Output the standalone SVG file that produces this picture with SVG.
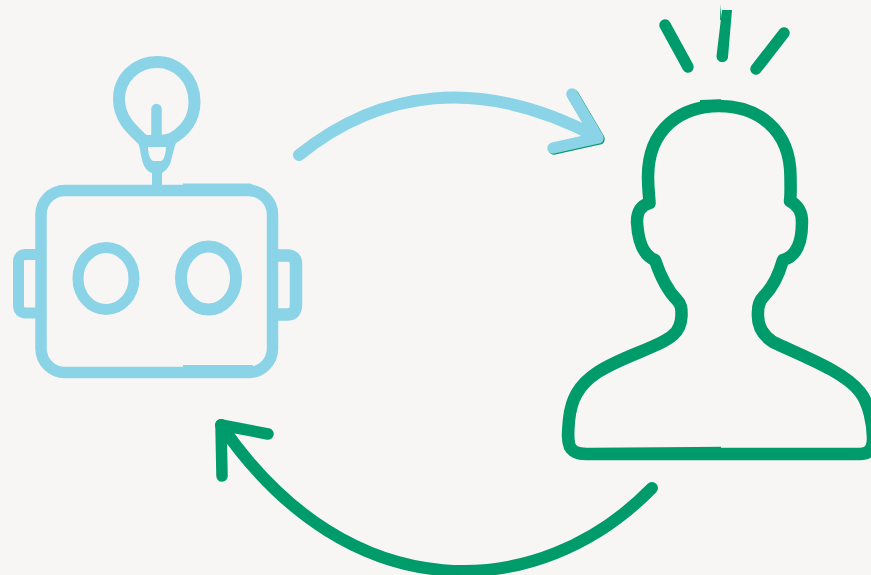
<svg xmlns="http://www.w3.org/2000/svg" width="871" height="575" viewBox="0 0 871 575">
<style>
.l{fill:none;stroke-linecap:round;stroke-linejoin:round}
.b{stroke:#8bd3e6}
.g{stroke:#009b6a}
.fb{fill:#8bd3e6}
.fg{fill:#009b6a}
</style>
<rect width="871" height="575" fill="#f8f6f4"/>
<g id="robot">
<rect class="l b" x="41" y="190.500" width="231.500" height="182" rx="24" stroke-width="11.500"/>
<path class="fb" d="M183 183.500H250L263 189L258 192H183Z"/>
<path class="fb" d="M183 365H252L262 372L252 374H183Z"/>
<path class="l b" stroke-width="11" d="M40 254.500H26Q18.500 254.500 18.500 262V305Q18.500 313 26 313H40"/>
<path class="l b" stroke-width="12.500" d="M274 255.500H287Q296 255.500 296 264V305Q296 314.500 287 314.500H274"/>
<ellipse class="l b" cx="106" cy="278.500" rx="28" ry="31" stroke-width="11"/>
<ellipse class="l b" cx="208.500" cy="278" rx="27.500" ry="31.500" stroke-width="12"/>
<path class="l b" stroke-width="12" d="M143 140C134 131 119 120 119 99C119 78 136 62 157 62C178 62 194.500 79 194.500 102C194.500 120 184 132 171 139C164 141 150 142 143 140Z"/>
<path class="fb" fill-rule="evenodd" d="M136 138L178 138C175 144 173 153 171 161C169 168 165 171 162 173V187H152V173C148 172 144 168 142 160C140 152 140 144 136 138ZM148 147C148 153 150 161 154 161H161C164 161 166 152 166 147Z"/>
<path class="l b" stroke-width="10.500" d="M156.500 109V138"/>
</g>
<g id="person">
<path class="l g" stroke-width="12.500" d="M719 106C682 106 648 128 648 177C648 188 649 194 649.500 203C640 206 637 212 637 222C638 240 642 255 655 260C659 272 667 290 677 300C682 305 681.500 310 681.500 316C681 325 678 331 673 335C660 347 625 355 598 372C578 385 571 400 569 420C568 432 567 440 570 447C574 454 582 454 590 454H860C868 454 873 450 873 438C873 425 869 403 860 392C845 372 805 357 773 342C762 335 757 325 758 312C758 305 760 300 764 296C772 288 779 274 783 260C798 256 802 240 802 222C802 212 799 206 790 201C791 194 790.500 188 790.500 177C790.500 128 756 106 719 106Z"/>
<path class="fg" d="M700 100L721 99.300V104H700Z"/>
<path class="fg" d="M590 448L721 446.800V452H590Z"/>
<path class="l g" stroke-width="11.500" d="M665 25L688 67"/>
<path class="fg" d="M722 10H732L728 57C727.500 64 716.500 64 716.500 56Z"/>
<path class="fg" d="M720.500 4L721.500 20H720Z"/>
<path class="l g" stroke-width="11.500" d="M784 33L756 69"/>
</g>
<g id="connectors">
<path class="l g" stroke-width="11.500" d="M573 95L599 139L554 149"/>
<path class="l b" stroke-width="11.500" d="M572 94L598 138L553 148"/>
<path class="l b" stroke-width="12" d="M299 155C380 90 480 75 597 137"/>
<path class="l g" stroke-width="12" d="M652 488C540 603 350 613 221 425"/>
<path class="l g" stroke-width="11.500" d="M268 434L221 425L222 476"/>
</g>
</svg>
